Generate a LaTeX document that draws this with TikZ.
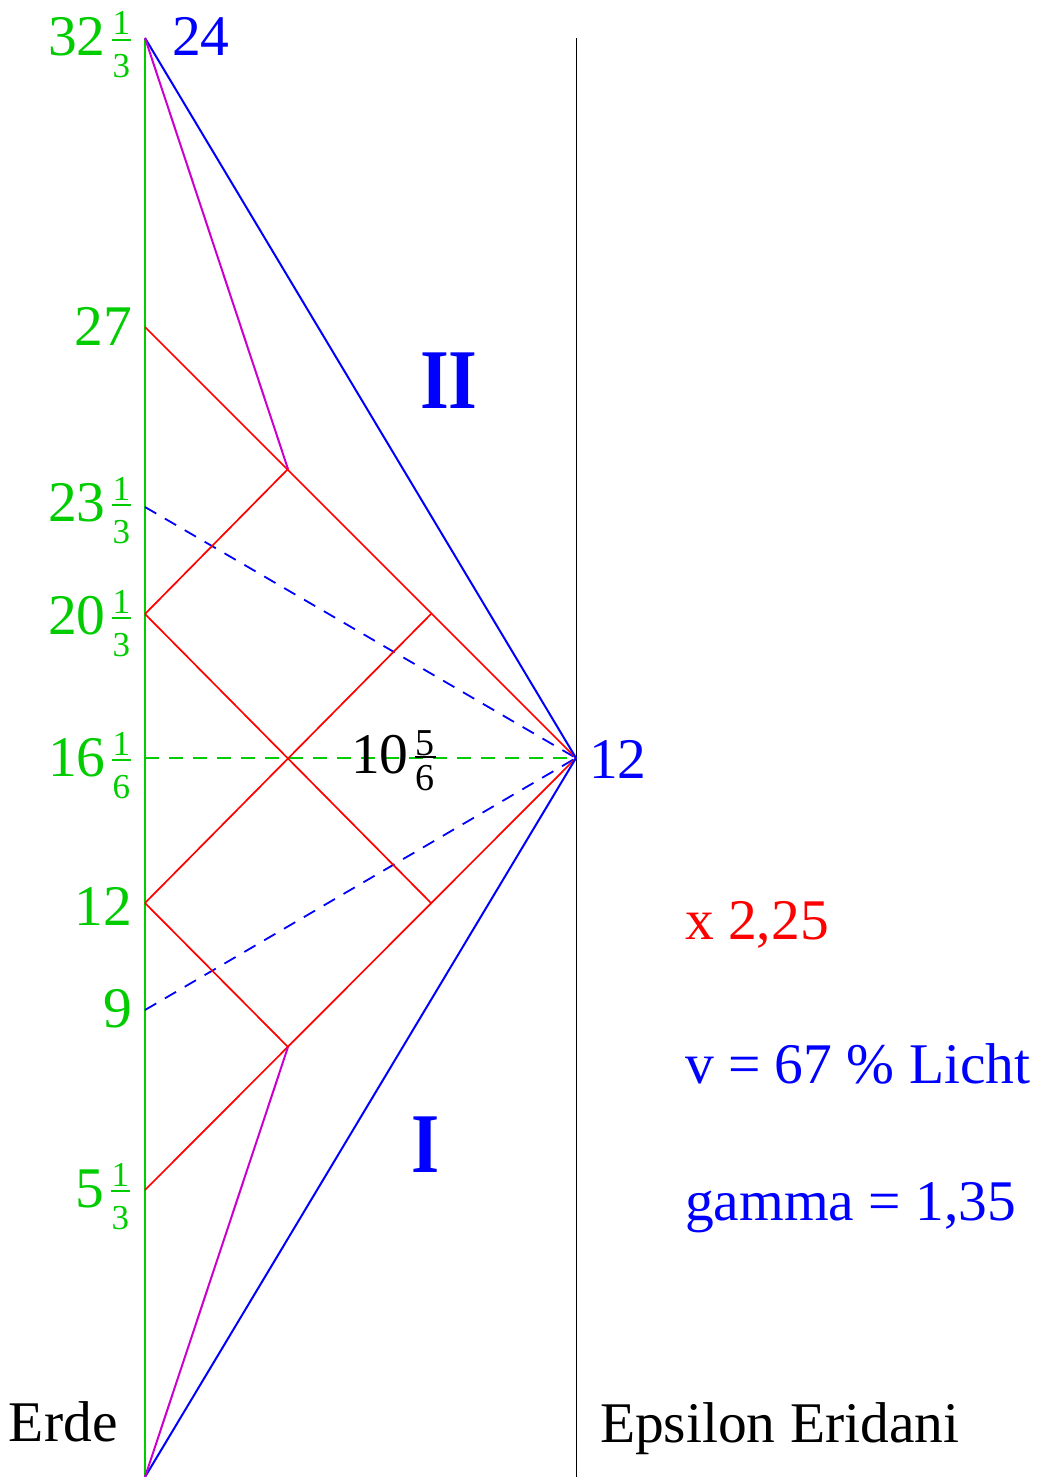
\documentclass[tikz,border=0pt]{standalone}
\usepackage{fontspec}
\setmainfont{Liberation Serif}
\usepackage{graphicx}
\definecolor{egreen}{RGB}{0,204,0}
\definecolor{emag}{RGB}{204,0,204}
\definecolor{eblue}{RGB}{0,0,255}
\definecolor{ered}{RGB}{255,0,0}
% fraction: #1 num, #2 den, #3 size, #4 num raise, #5 den lower, #6 kern
\newcommand\myfrc[6]{%
  \kern#6%
  \setbox0\hbox{\fontsize{#3}{#3}\selectfont #1}%
  \setbox2\hbox{\fontsize{#3}{#3}\selectfont #2}%
  \dimen0=\wd0 \ifdim\wd2>\dimen0 \dimen0=\wd2 \fi
  \advance\dimen0 by 2pt
  \rlap{\raise#4\hbox to\dimen0{\hfil\box0\hfil}}%
  \rlap{\vrule width\dimen0 height 17pt depth -15pt}%
  \lower#5\hbox to\dimen0{\hfil\box2\hfil}}
\newcommand\lfr[2]{\myfrc{#1}{#2}{35}{21pt}{22pt}{6pt}}
\begin{document}
\begin{tikzpicture}[x=1pt,y=-1pt,
  lab/.style={inner sep=0pt, outer sep=0pt, font=\fontsize{57.5}{62}\selectfont},
  big/.style={inner sep=0pt, outer sep=0pt, font=\fontsize{85}{90}\selectfont\bfseries, text=eblue},
  worldline/.style={draw=egreen, line width=2pt},
  starline/.style={draw=black, line width=1pt},
  ray/.style={draw=ered, line width=1.7pt},
  ship/.style={draw=eblue, line width=2pt, line join=miter},
  magl/.style={draw=emag, line width=2pt},
  dashg/.style={draw=egreen, line width=2pt, dash pattern=on 14pt off 10pt},
  dashb/.style={draw=eblue, line width=1.8pt, dash pattern=on 13pt off 10pt}]
\useasboundingbox (0,0) rectangle (1040,1477);
% points
\coordinate (E0) at (145,1477);
\coordinate (E32) at (145,38);
\coordinate (S0) at (576,1477);
\coordinate (S32) at (576,38);
\coordinate (T) at (576,758);
\coordinate (M1) at (288,1047);
\coordinate (M2) at (288,469);
\coordinate (R27) at (145,327);
\coordinate (R20) at (145,614);
\coordinate (R12) at (145,903);
\coordinate (R5) at (145,1190);
\coordinate (A) at (431,614);
\coordinate (B) at (431,903);
\coordinate (D23) at (145,507);
\coordinate (D9) at (145,1010);
\coordinate (G16) at (145,758);
% lines
\draw[worldline] (E0) -- (E32);
\draw[starline] (S0) -- (S32);
\draw[dashg] (G16) -- (T);
\draw[dashb] (D23) -- (T);
\draw[dashb] (D9) -- (T);
\draw[ray] (R27) -- (T);
\draw[ray] (R5) -- (T);
\draw[ray] (R20) -- (M2);
\draw[ray] (R20) -- (B);
\draw[ray] (R12) -- (M1);
\draw[ray] (R12) -- (A);
\draw[ship] (E0) -- (T) -- (E32);
\draw[magl] (E0) -- (M1);
\draw[magl] (E32) -- (M2);
% earth time labels
\node[lab, text=egreen, anchor=base east] (l32) at (131,56) {32\lfr{1}{3}};
\node[lab, text=egreen, anchor=base east] (l27) at (132,345) {27};
\node[lab, text=egreen, anchor=base east] (l23) at (131,521) {23\lfr{1}{3}};
\node[lab, text=egreen, anchor=base east] (l20) at (131,634) {20\lfr{1}{3}};
\node[lab, text=egreen, anchor=base east] (l16) at (131,776) {16\lfr{1}{6}};
\node[lab, text=egreen, anchor=base east] (l12) at (132,925) {12};
\node[lab, text=egreen, anchor=base east] (l9) at (132,1027) {9};
\node[lab, text=egreen, anchor=base east] (l5) at (130,1207) {5\lfr{1}{3}};
% ship time labels
\node[lab, text=eblue, anchor=base west] (s24) at (172,56) {24};
\node[lab, text=eblue, anchor=base west] (s12) at (589,778) {12};
\node[lab, text=black, anchor=base west] (m10) at (351,773) {10\myfrc{5}{6}{38}{18pt}{17pt}{6pt}};
% region labels
\node[big, anchor=base west] (rII) at (420,408) {\scalebox{0.87}[1]{II}};
\node[big, anchor=base west] (rI) at (411,1172) {\scalebox{0.85}[1]{I}};
% legend
\node[lab, text=ered, anchor=base west] (fx) at (685,939) {x 2,25};
\node[lab, text=eblue, anchor=base west] (fv) at (685,1083) {v = 67 \% Licht};
\node[lab, text=eblue, anchor=base west] (fg) at (685,1220) {gamma = 1,35};
% place labels
\node[lab, text=black, anchor=base west] (erde) at (9,1441) {Erde};
\node[lab, text=black, anchor=base west] (eps) at (600,1442) {Epsilon Eridani};
\end{tikzpicture}
\end{document}
